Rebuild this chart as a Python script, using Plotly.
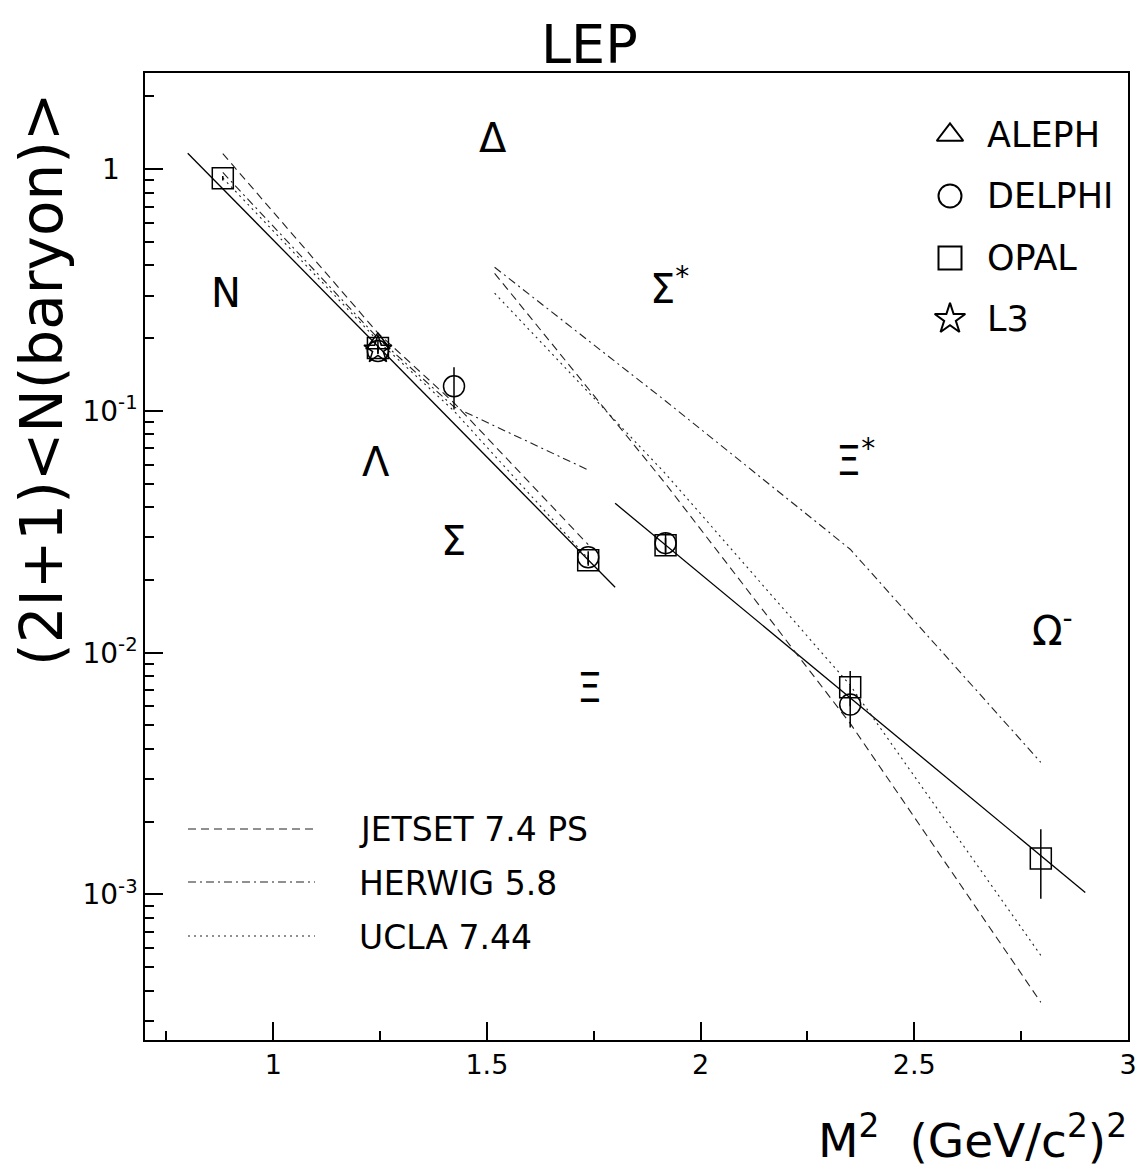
import plotly.graph_objects as go

# ---------------- data ----------------
# baryon M^2 values (GeV/c^2)^2
octet_names = ["N", "Λ", "Σ", "Ξ"]
octet_x = [0.882, 1.245, 1.423, 1.737]
decuplet_names = ["Δ", "Σ*", "Ξ*", "Ω-"]
decuplet_x = [1.518, 1.918, 2.350, 2.796]

# measurements
opal_x = [0.882, 1.245, 1.737, 1.918, 2.350, 2.796]
opal_y = [0.918, 0.182, 0.0241, 0.0278, 0.0072, 0.00141]
opal_err = [0.02, 0.005, 0.0012, 0.002, 0.0012, 0.00045]

delphi_x = [1.245, 1.423, 1.737, 1.918, 2.350]
delphi_y = [0.177, 0.1265, 0.0248, 0.0284, 0.0061]
delphi_err = [0.005, 0.025, 0.0015, 0.0030, 0.0012]

aleph_x = [1.245]
aleph_y = [0.19]
aleph_err = [0.006]

l3_x = [1.245]
l3_y = [0.179]
l3_err = [0.006]

# model predictions
jetset_oct = [1.16, 0.21, 0.108, 0.028]
herwig_oct = [0.97, 0.20, 0.104, 0.057]
ucla_oct = [0.92, 0.195, 0.100, 0.0245]

jetset_dec = [0.371, 0.050, 0.0051, 0.000358]
herwig_dec = [0.393, 0.110, 0.0268, 0.00352]
ucla_dec = [0.307, 0.055, 0.00733, 0.00056]

# exponential fits
fit_oct_x = [0.80, 1.80]
fit_oct_y = [1.165, 0.01865]
fit_dec_x = [1.80, 2.90]
fit_dec_y = [0.0415, 0.00102]

exp_names = ["ALEPH", "DELPHI", "OPAL", "L3"]
exp_symbols = ["triangle-up-open", "circle-open", "square-open", "star-open"]
model_names = ["JETSET 7.4 PS", "HERWIG 5.8", "UCLA 7.44"]
model_dash = ["8px,5px", "8px,4px,2px,4px", "2px,4px"]

y_tickvals = [1e-3, 1e-2, 1e-1, 1]
y_ticktext = ["10<sup>-3</sup>", "10<sup>-2</sup>", "10<sup>-1</sup>", "1&nbsp;&nbsp;"]
x_tickvals = [1, 1.5, 2, 2.5, 3]
x_ticktext = ["1", "1.5", "2", "2.5", "3"]

FONT = "DejaVu Sans"
W, H = 1141, 1168
L, R, T, B = 145, 1128, 73, 1040


def px(xp):
    return (xp - L) / (R - L)


def py(yp):
    return (B - yp) / (B - T)


fig = go.Figure()

# fits
for fx, fy in [(fit_oct_x, fit_oct_y), (fit_dec_x, fit_dec_y)]:
    fig.add_trace(go.Scatter(x=fx, y=fy, mode="lines",
                             line=dict(color="black", width=1.3),
                             showlegend=False, hoverinfo="skip"))

# models
for vals_o, vals_d, dash in [(jetset_oct, jetset_dec, model_dash[0]),
                             (herwig_oct, herwig_dec, model_dash[1]),
                             (ucla_oct, ucla_dec, model_dash[2])]:
    fig.add_trace(go.Scatter(x=octet_x, y=vals_o, mode="lines",
                             line=dict(color="#222", width=1.1, dash=dash),
                             showlegend=False))
    fig.add_trace(go.Scatter(x=decuplet_x, y=vals_d, mode="lines",
                             line=dict(color="#222", width=1.1, dash=dash),
                             showlegend=False))

# data points
for xs, ys, es, sym in [(aleph_x, aleph_y, aleph_err, exp_symbols[0]),
                        (delphi_x, delphi_y, delphi_err, exp_symbols[1]),
                        (opal_x, opal_y, opal_err, exp_symbols[2]),
                        (l3_x, l3_y, l3_err, exp_symbols[3])]:
    fig.add_trace(go.Scatter(
        x=xs, y=ys, mode="markers",
        marker=dict(symbol=sym, size=21, color="black",
                    line=dict(color="black", width=1.5)),
        error_y=dict(type="data", array=es, thickness=1.5, width=0,
                     color="black"),
        showlegend=False))

# legend markers (overlay axes in [0,1] units)
leg_rows = [135, 196, 258, 319]
fig.add_trace(go.Scatter(
    x=[px(950)] * 4, y=[py(r) for r in leg_rows], mode="markers",
    marker=dict(symbol=exp_symbols, size=23, color="black",
                line=dict(color="black", width=2)),
    xaxis="x2", yaxis="y2", showlegend=False, hoverinfo="skip"))

annotations = []
for name, r in zip(exp_names, leg_rows):
    annotations.append(dict(x=px(985), y=py(r), xref="paper", yref="paper",
                            text=name, showarrow=False, xanchor="left",
                            yanchor="middle", font=dict(size=35, family=FONT, color="black")))

shapes = []
for name, dash, r in zip(model_names, model_dash, [829, 882, 936]):
    shapes.append(dict(type="line", xref="paper", yref="paper",
                       x0=px(188), x1=px(315), y0=py(r), y1=py(r),
                       line=dict(color="#222", width=1.1, dash=dash)))
    annotations.append(dict(x=px(357), y=py(r + 1), xref="paper", yref="paper",
                            text=name, showarrow=False, xanchor="left",
                            yanchor="middle", font=dict(size=33, family=FONT, color="black")))

# particle labels
labels = [("N", 226, 293), ("Δ", 493, 138), ("Λ", 376, 462), ("Σ", 453, 541),
          ("Σ<sup>*</sup>", 669, 286), ("Ξ", 589, 688), ("Ξ<sup>*</sup>", 855, 458),
          ("Ω<sup>-</sup>", 1052, 628)]
for t, xx, yy in labels:
    annotations.append(dict(x=px(xx), y=py(yy), xref="paper", yref="paper",
                            text=t, showarrow=False, xanchor="center",
                            yanchor="middle", font=dict(size=40, family=FONT, color="black")))

# titles
annotations.append(dict(x=px(589), y=py(45), xref="paper", yref="paper", text="LEP",
                        showarrow=False, xanchor="center", yanchor="middle",
                        font=dict(size=54, family=FONT, color="black")))
annotations.append(dict(x=px(42), y=py(380), xref="paper", yref="paper",
                        text="(2I+1)&lt;N(baryon)&gt;", textangle=-90,
                        showarrow=False, xanchor="center", yanchor="middle",
                        font=dict(size=58, family=FONT, color="black")))
annotations.append(dict(x=px(1129), y=py(1137), xref="paper", yref="paper",
                        text="M<sup>2</sup>  (GeV/c<sup>2</sup>)<sup>2</sup>",
                        showarrow=False, xanchor="right", yanchor="middle",
                        font=dict(size=47, family=FONT, color="black")))

y_minor = [m * 10 ** e for e in range(-4, 1) for m in range(2, 10)
           if 2.5e-4 <= m * 10 ** e <= 2.5]

fig.update_layout(
    template="none",
    width=W, height=H, autosize=False,
    margin=dict(l=L, r=W - R, t=T, b=H - B, pad=0),
    paper_bgcolor="white", plot_bgcolor="white",
    showlegend=False,
    font=dict(family=FONT, color="black"),
    xaxis=dict(range=[0.7, 3.0], tickvals=x_tickvals, ticktext=x_ticktext,
               automargin=False,
               ticks="inside", ticklen=18, tickwidth=1.5, tickcolor="black",
               showline=True, linewidth=1.5, linecolor="black", mirror=True,
               showgrid=False, zeroline=False,
               tickfont=dict(size=27, family=FONT, color="black"),
               minor=dict(tickvals=[0.75, 1.25, 1.75, 2.25, 2.75], ticks="inside",
                          ticklen=9, tickwidth=1.5, tickcolor="black", showgrid=False)),
    yaxis=dict(type="log", range=[-3.602, 0.398], tickvals=y_tickvals,
               automargin=False,
               ticktext=y_ticktext, ticks="inside", ticklen=18, tickwidth=1.5,
               tickcolor="black", showline=True, linewidth=1.5, linecolor="black",
               mirror=True, showgrid=False, zeroline=False,
               tickfont=dict(size=28, family=FONT, color="black"),
               minor=dict(tickvals=y_minor, ticks="inside", ticklen=9,
                          tickwidth=1.5, tickcolor="black", showgrid=False)),
    xaxis2=dict(overlaying="x", anchor="y2", range=[0, 1], visible=False),
    yaxis2=dict(overlaying="y", anchor="x2", range=[0, 1], visible=False),
    annotations=annotations,
    shapes=shapes,
)

fig.write_html("out.html")
